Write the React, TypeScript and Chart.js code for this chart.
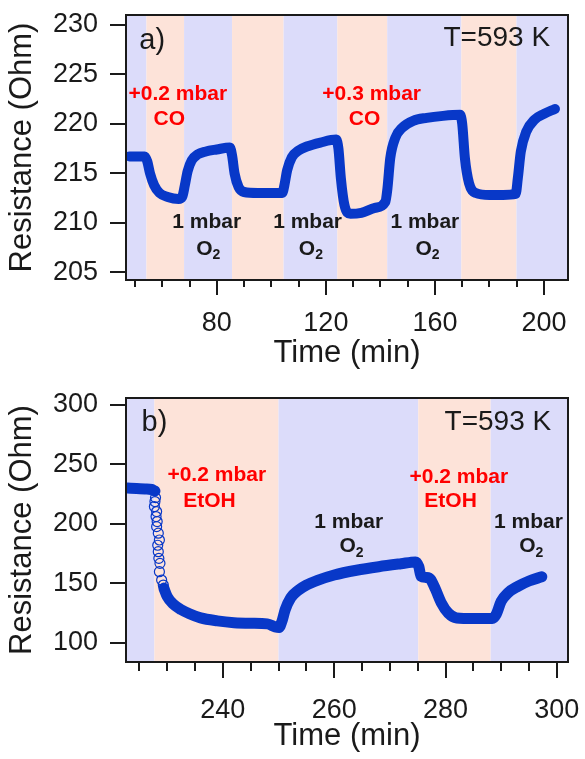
import React, { useEffect, useRef } from 'react';
import { Chart, registerables } from 'chart.js';
Chart.register(...registerables);

// ---------- Panel a data ----------
const timeA = [48, 53.5, 54.5, 55.5, 57, 59, 62, 66, 67.3, 68.3, 69.3, 70.8, 73, 76, 80, 84.8, 85.6, 86.5, 88, 90, 95, 100, 104, 104.8, 105.8, 107.5, 110, 113, 118, 123.8, 124.6, 125.5, 126.8, 129, 133, 138, 141.8, 142.6, 143.6, 145.5, 148, 152, 157, 163, 169.2, 170, 171, 172.5, 175, 180, 185, 189.6, 190.4, 191.5, 193.5, 196.5, 200, 204];
const resA = [216.7, 216.7, 216.2, 215.0, 213.8, 213.0, 212.6, 212.4, 212.6, 213.8, 215.2, 216.3, 216.9, 217.2, 217.4, 217.6, 216.8, 215.0, 213.6, 213.1, 213.0, 213.0, 213.0, 213.8, 215.3, 216.6, 217.3, 217.7, 218.1, 218.4, 217.5, 214.5, 211.8, 210.9, 211.0, 211.5, 212.1, 213.5, 216.5, 218.6, 219.6, 220.3, 220.6, 220.8, 220.9, 220.0, 216.5, 214.0, 213.0, 212.8, 212.8, 212.9, 214.5, 217.2, 219.2, 220.4, 221.0, 221.5];
const xTicksA = [50, 60, 70, 80, 90, 100, 110, 120, 130, 140, 150, 160, 170, 180, 190, 200];
const xLabelsA = [80, 120, 160, 200];
const yTicksA = [205, 210, 215, 220, 225, 230];
const bandEdgesA = [54.2, 68, 85.6, 104.5, 124.2, 142.5, 169.7, 189.9];

// ---------- Panel b data ----------
const preTimeB = [222.9, 224.5, 226, 227.2, 227.8];
const preResB = [230, 229.6, 229.2, 228.8, 227.5];
const circTimeB = [227.9, 227.8, 227.7, 228.1, 228.0, 228.2, 228.1, 228.4, 228.6, 228.3, 228.4, 228.5, 228.7, 228.6, 229.0, 229.3];
const circResB = [222, 218.7, 214.5, 210.3, 206.1, 201.9, 197.6, 192.1, 186.4, 182, 176.6, 171, 166.8, 159.8, 152.8, 148.6];
const mainTimeB = [229.4, 230, 231, 232.5, 234, 236, 239, 242, 245, 248, 249.4, 250.1, 250.6, 251.2, 252.2, 253.5, 255, 257, 260, 264, 268, 272, 274.6, 275.2, 275.6, 276.5, 277.3, 278.2, 279.2, 280.5, 282, 285, 288.4, 289.1, 290, 291.2, 293, 295, 297.3];
const mainResB = [146, 139, 133, 128, 124.5, 121, 118.5, 117, 116.5, 116, 113.5, 113, 118, 128, 138, 144, 148.5, 152.5, 157, 161, 164, 166.5, 168, 164, 156, 155, 153.5, 145, 134, 125, 121, 120.5, 120.5, 124, 135, 142, 147.5, 152, 155.5];
const xTicksB = [225, 230, 235, 240, 245, 250, 255, 260, 265, 270, 275, 280, 285, 290, 295, 300];
const xLabelsB = [240, 260, 280, 300];
const yTicksB = [100, 150, 200, 250, 300];
const bandEdgesB = [227.7, 250, 275.1, 288.1];

// ---------- annotations (data coordinates) ----------
type Ann = { text: string; x: number; y: number; kind: 'red' | 'black' | 'sub' | 'plain' | 'panel' };
const annA: Ann[] = [
  { text: 'a)', x: 56.3, y: 228.4, kind: 'panel' },
  { text: 'T=593 K', x: 182.7, y: 228.6, kind: 'plain' },
  { text: '+0.2 mbar', x: 65.7, y: 223.0, kind: 'red' },
  { text: 'CO', x: 62.6, y: 220.5, kind: 'red' },
  { text: '+0.3 mbar', x: 136.8, y: 223.0, kind: 'red' },
  { text: 'CO', x: 134.2, y: 220.5, kind: 'red' },
  { text: '1 mbar', x: 76.3, y: 210.0, kind: 'black' },
  { text: 'O2', x: 76.9, y: 207.3, kind: 'sub' },
  { text: '1 mbar', x: 113.3, y: 210.0, kind: 'black' },
  { text: 'O2', x: 114.5, y: 207.3, kind: 'sub' },
  { text: '1 mbar', x: 156.3, y: 210.0, kind: 'black' },
  { text: 'O2', x: 157.3, y: 207.3, kind: 'sub' },
];
const annB: Ann[] = [
  { text: 'b)', x: 227.7, y: 285, kind: 'panel' },
  { text: 'T=593 K', x: 289.4, y: 285, kind: 'plain' },
  { text: '+0.2 mbar', x: 238.9, y: 241.2, kind: 'red' },
  { text: 'EtOH', x: 237.6, y: 218.7, kind: 'red' },
  { text: '+0.2 mbar', x: 282.4, y: 239.5, kind: 'red' },
  { text: 'EtOH', x: 280.9, y: 218.7, kind: 'red' },
  { text: '1 mbar', x: 262.6, y: 201.3, kind: 'black' },
  { text: 'O2', x: 263.1, y: 180.8, kind: 'sub' },
  { text: '1 mbar', x: 294.9, y: 201.3, kind: 'black' },
  { text: 'O2', x: 295.4, y: 180.8, kind: 'sub' },
];

const FONT = "'Liberation Sans', Arial, sans-serif";
const BLUE = '#0838c8';
const O2_BAND = '#dcdcfa';
const GAS_BAND = '#fde3d9';
const INK = '#1a1a1a';

type PanelCfg = {
  height: number;
  padTop: number;
  xAxisHeight: number;
  xMin: number; xMax: number; yMin: number; yMax: number;
  xTicks: number[]; xLabels: number[]; yTicks: number[];
  bands: number[];
  anns: Ann[];
  xLabelPad: number;
  xTitlePad: number;
  majorLen: number; minorLen: number;
  datasets: any[];
};

function makePlugin(cfg: PanelCfg) {
  return {
    id: 'decor',
    beforeDatasetsDraw(chart: any) {
      const { ctx, chartArea: ca, scales } = chart;
      const xs = scales.x;
      const edges = [ca.left, ...cfg.bands.map((v) => xs.getPixelForValue(v)), ca.right];
      ctx.save();
      for (let i = 0; i < edges.length - 1; i++) {
        ctx.fillStyle = i % 2 === 0 ? O2_BAND : GAS_BAND;
        ctx.fillRect(edges[i], ca.top, edges[i + 1] - edges[i], ca.bottom - ca.top);
      }
      ctx.restore();
    },
    afterDraw(chart: any) {
      const { ctx, chartArea: ca, scales } = chart;
      const xs = scales.x, ys = scales.y;
      ctx.save();
      ctx.strokeStyle = INK;
      ctx.lineWidth = 2;
      ctx.strokeRect(ca.left, ca.top, ca.right - ca.left, ca.bottom - ca.top);
      ctx.beginPath();
      for (const v of cfg.xTicks) {
        const px = Math.round(xs.getPixelForValue(v));
        const len = cfg.xLabels.includes(v) ? cfg.majorLen : cfg.minorLen;
        ctx.moveTo(px, ca.bottom);
        ctx.lineTo(px, ca.bottom + len);
      }
      for (const v of cfg.yTicks) {
        const py = Math.round(ys.getPixelForValue(v));
        ctx.moveTo(ca.left - 16, py);
        ctx.lineTo(ca.left, py);
      }
      ctx.stroke();
      // annotations
      ctx.textBaseline = 'middle';
      for (const a of cfg.anns) {
        const px = xs.getPixelForValue(a.x);
        const py = ys.getPixelForValue(a.y);
        if (a.kind === 'sub') {
          ctx.fillStyle = INK;
          ctx.font = `bold 21px ${FONT}`;
          const wO = ctx.measureText('O').width;
          ctx.font = `bold 14px ${FONT}`;
          const w2 = ctx.measureText('2').width;
          const start = px - (wO + w2) / 2;
          ctx.textAlign = 'left';
          ctx.font = `bold 21px ${FONT}`;
          ctx.fillText('O', start, py);
          ctx.font = `bold 14px ${FONT}`;
          ctx.fillText('2', start + wO, py + 6);
        } else {
          ctx.textAlign = 'center';
          if (a.kind === 'red') { ctx.fillStyle = '#ff0000'; ctx.font = `bold 21px ${FONT}`; }
          else if (a.kind === 'black') { ctx.fillStyle = INK; ctx.font = `bold 21px ${FONT}`; }
          else if (a.kind === 'panel') { ctx.fillStyle = INK; ctx.font = `29px ${FONT}`; }
          else { ctx.fillStyle = INK; ctx.font = `28px ${FONT}`; }
          ctx.fillText(a.text, px, py);
        }
      }
      ctx.restore();
    },
  };
}

function Panel({ cfg }: { cfg: PanelCfg }) {
  const ref = useRef<HTMLCanvasElement | null>(null);
  useEffect(() => {
    if (!ref.current) return;
    const chart = new Chart(ref.current, {
      type: 'line',
      data: { datasets: cfg.datasets },
      options: {
        animation: false,
        responsive: false,
        devicePixelRatio: 1,
        layout: { padding: { top: cfg.padTop, right: 17, left: 0, bottom: 0 } },
        plugins: { legend: { display: false }, tooltip: { enabled: false } },
        scales: {
          x: {
            type: 'linear',
            min: cfg.xMin,
            max: cfg.xMax,
            afterBuildTicks: (s: any) => { s.ticks = cfg.xTicks.map((v) => ({ value: v })); },
            afterFit: (s: any) => {
              s.height = cfg.xAxisHeight;
              s.paddingLeft = 0; s.paddingRight = 0; s.paddingTop = 0; s.paddingBottom = 0;
            },
            grid: { display: false, drawTicks: false },
            border: { display: false },
            ticks: {
              autoSkip: false,
              maxRotation: 0,
              padding: cfg.xLabelPad,
              color: INK,
              font: { family: FONT, size: 27 },
              callback: (v: any) => (cfg.xLabels.includes(Number(v)) ? String(v) : ''),
            },
            title: {
              display: true,
              text: 'Time (min)',
              color: INK,
              font: { family: FONT, size: 31 },
              padding: { top: 0, bottom: cfg.xTitlePad },
            },
          },
          y: {
            type: 'linear',
            min: cfg.yMin,
            max: cfg.yMax,
            afterBuildTicks: (s: any) => { s.ticks = cfg.yTicks.map((v) => ({ value: v })); },
            afterFit: (s: any) => {
              s.width = 126;
              s.paddingLeft = 0; s.paddingRight = 0; s.paddingTop = 0; s.paddingBottom = 0;
            },
            grid: { display: false, drawTicks: false },
            border: { display: false },
            ticks: {
              padding: 28,
              color: INK,
              font: { family: FONT, size: 27 },
              callback: (v: any) => String(v),
            },
            title: {
              display: true,
              text: 'Resistance (Ohm)',
              color: INK,
              font: { family: FONT, size: 31 },
              padding: { top: 4, bottom: 0 },
            },
          },
        },
      },
      plugins: [makePlugin(cfg)],
    } as any);
    return () => chart.destroy();
  }, [cfg]);
  return <canvas ref={ref} width={585} height={cfg.height} style={{ display: 'block' }} />;
}

const lineStyle = {
  borderColor: BLUE,
  borderWidth: 10,
  pointRadius: 0,
  cubicInterpolationMode: 'monotone',
  borderCapStyle: 'round',
  borderJoinStyle: 'round',
  fill: false,
};

const cfgA: PanelCfg = {
  height: 375,
  padTop: 15,
  xAxisHeight: 95,
  xMin: 46.7, xMax: 208.8, yMin: 204.2, yMax: 231,
  xTicks: xTicksA, xLabels: xLabelsA, yTicks: yTicksA,
  bands: bandEdgesA,
  anns: annA,
  xLabelPad: 27,
  xTitlePad: 3,
  majorLen: 15, minorLen: 7,
  datasets: [
    { ...lineStyle, data: timeA.map((t, i) => ({ x: t, y: resA[i] })) },
  ],
};

const cfgB: PanelCfg = {
  height: 384,
  padTop: 23,
  xAxisHeight: 97,
  xMin: 222.6, xMax: 302, yMin: 84, yMax: 305.6,
  xTicks: xTicksB, xLabels: xLabelsB, yTicks: yTicksB,
  bands: bandEdgesB,
  anns: annB,
  xLabelPad: 32,
  xTitlePad: 4,
  majorLen: 16, minorLen: 9,
  datasets: [
    { ...lineStyle, borderWidth: 11, data: preTimeB.map((t, i) => ({ x: t, y: preResB[i] })) },
    {
      data: circTimeB.map((t, i) => ({ x: t, y: circResB[i] })),
      showLine: false,
      pointStyle: 'circle',
      pointRadius: 5,
      pointBorderWidth: 1.2,
      pointBorderColor: BLUE,
      pointBackgroundColor: 'rgba(0,0,0,0)',
      borderColor: BLUE,
    },
    { ...lineStyle, borderWidth: 11, data: mainTimeB.map((t, i) => ({ x: t, y: mainResB[i] })) },
  ],
};

export default function App() {
  return (
    <div style={{ position: 'absolute', left: 0, top: 0, width: 585, height: 759, background: '#fff' }}>
      <Panel cfg={cfgA} />
      <Panel cfg={cfgB} />
    </div>
  );
}
